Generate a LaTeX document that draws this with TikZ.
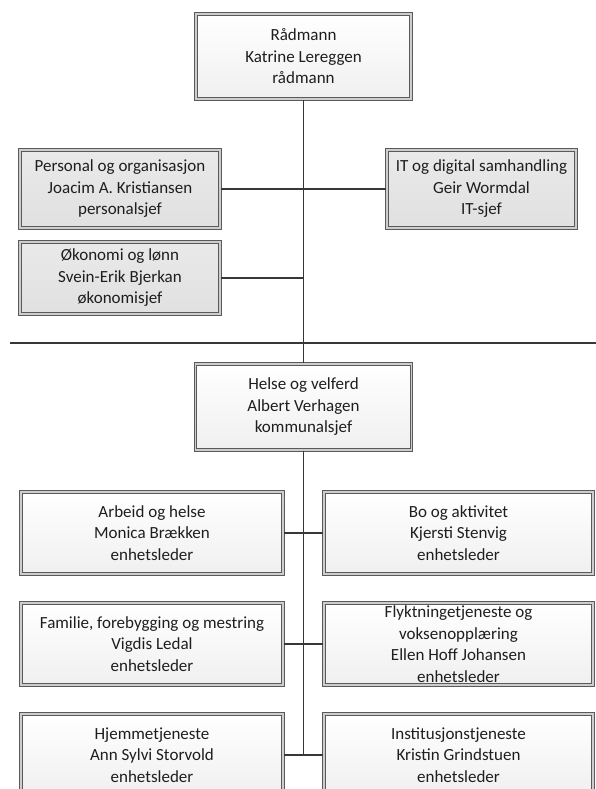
\documentclass[tikz,border=0pt]{standalone}
\usepackage{fontspec}
\setmainfont{Carlito}
\usetikzlibrary{shadows}
\definecolor{bordc}{RGB}{90,90,90}
\definecolor{gapc}{RGB}{205,205,205}
\definecolor{linec}{RGB}{55,55,55}
\definecolor{txtc}{RGB}{30,30,30}
\begin{document}
\begin{tikzpicture}[x=1pt,y=-1pt,
  orgbox/.style={draw=bordc, line width=1.2pt, double=gapc, double distance=1.5pt,
    inner xsep=2pt, inner ysep=0pt, align=center, text=txtc,
    font=\fontsize{17}{21.5}\selectfont,
    drop shadow={shadow xshift=1.5pt, shadow yshift=-1.5pt, fill=black, opacity=.2}},
  mainbox/.style={orgbox, top color=white, bottom color=gray!12},
  staffbox/.style={orgbox, top color=gray!17, bottom color=gray!24},
  conn/.style={draw=linec, line width=1.9pt}]
\useasboundingbox (0,0) rectangle (596,789);

\node[mainbox, minimum width=215, minimum height=85] (top) at (303.5,56.5)
  {Rådmann\\Katrine Lereggen\\rådmann};
\node[staffbox, minimum width=200, minimum height=78] (pers) at (120,189)
  {Personal og organisasjon\\Joacim A. Kristiansen\\personalsjef};
\node[staffbox, minimum width=189, minimum height=78] (it) at (481.5,189)
  {IT og digital samhandling\\Geir Wormdal\\IT-sjef};
\node[staffbox, minimum width=200, minimum height=72] (oko) at (120,278)
  {Økonomi og lønn\\Svein-Erik Bjerkan\\økonomisjef};
\node[mainbox, minimum width=216, minimum height=86] (helse) at (303.5,407)
  {Helse og velferd\\Albert Verhagen\\kommunalsjef};

\node[mainbox, minimum width=262, minimum height=82] (arb) at (152,533)
  {Arbeid og helse\\Monica Brækken\\enhetsleder};
\node[mainbox, minimum width=269, minimum height=82] (bo) at (458.5,533)
  {Bo og aktivitet\\Kjersti Stenvig\\enhetsleder};
\node[mainbox, minimum width=262, minimum height=82] (fam) at (152,644)
  {Familie, forebygging og mestring\\Vigdis Ledal\\enhetsleder};
\node[mainbox, minimum width=269, minimum height=82] (fly) at (458.5,644)
  {Flyktningetjeneste og\\voksenopplæring\\Ellen Hoff Johansen\\enhetsleder};
\node[mainbox, minimum width=262, minimum height=82] (hjem) at (152,755)
  {Hjemmetjeneste\\Ann Sylvi Storvold\\enhetsleder};
\node[mainbox, minimum width=269, minimum height=82] (inst) at (458.5,755)
  {Institusjonstjeneste\\Kristin Grindstuen\\enhetsleder};

\coordinate (hl) at (10,343);
\coordinate (hr) at (596,343);

\draw[conn] (top.south) -- (top.south |- helse.north);
\draw[conn] (pers.east) -- (pers.east -| top.south);
\draw[conn] (oko.east) -- (oko.east -| top.south);
\draw[conn] (it.west) -- (it.west -| top.south);
\draw[conn] (hl) -- (hr);
\draw[conn] (helse.south) -- (helse.south |- hjem.east);
\draw[conn] (arb.east) -- (bo.west);
\draw[conn] (fam.east) -- (fly.west);
\draw[conn] (hjem.east) -- (inst.west);
\end{tikzpicture}
\end{document}
